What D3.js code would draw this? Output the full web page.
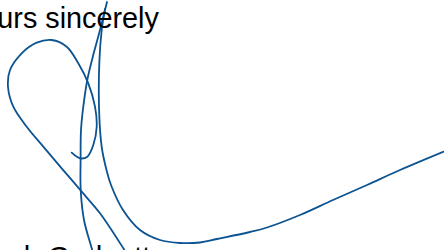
<!DOCTYPE html>
<html>
<head>
<meta charset="utf-8">
<script src="https://cdn.jsdelivr.net/npm/d3@7"></script>
<style>
  html, body { margin: 0; padding: 0; background: #fff; overflow: hidden; }
  text { font-family: "Liberation Sans", Arial, sans-serif; }
</style>
</head>
<body>
<div id="chart"></div>
<script>
const width = 444;
const height = 250;

// text lines of the letter
const closingLine = "Yours sincerely";
const nameLine = "Hugh Gadgett";

// signature strokes, points in pen coordinates
const loopStroke = [
  [71.7, 152.7], [80, 158.3], [87.3, 156.7], [93.3, 145], [96.7, 126.7],
  [95, 106.7], [88.3, 83.3], [78.3, 63.3], [66.7, 46.7], [51.7, 40],
  [36.7, 42.7], [21.7, 53.3], [10, 70], [8, 86.7], [13.3, 106.7],
  [26.7, 126.7], [43.3, 146.7], [61.7, 168.3], [81.7, 191.7],
  [100, 213.3], [123.3, 248.3], [128, 256]
];

const upStroke = [
  [94, 257], [91.7, 248.3], [84, 220], [80.7, 190], [80.6, 160],
  [81, 130], [83.3, 106.7], [87.3, 80], [92.5, 58], [100, 30], [107, 2]
];

const downStroke = [
  [105, 9], [101.7, 30], [99.3, 63.3], [99.2, 113.3], [101.7, 147],
  [106.5, 170], [111, 185], [123, 210], [140, 230], [160, 240],
  [180, 243], [200, 242.5], [217, 239], [250, 232], [267, 227.5],
  [300, 215], [333, 200], [367, 185], [400, 170], [450, 149]
];

const svg = d3.select("#chart")
  .append("svg")
  .attr("width", width)
  .attr("height", height);

const x = d3.scaleLinear().domain([0, 444]).range([0, width]);
const y = d3.scaleLinear().domain([0, 250]).range([0, height]);

const line = d3.line()
  .x(d => x(d[0]))
  .y(d => y(d[1]))
  .curve(d3.curveCatmullRom.alpha(0.5));

svg.selectAll("path.stroke")
  .data([loopStroke, upStroke, downStroke])
  .enter()
  .append("path")
  .attr("class", "stroke")
  .attr("d", line)
  .attr("fill", "none")
  .attr("stroke", "#0b5391")
  .attr("stroke-width", 1.8)
  .attr("stroke-linecap", "round");

svg.append("text")
  .attr("x", -35.3)
  .attr("y", 28)
  .attr("font-size", 28.8)
  .attr("fill", "#000")
  .text(closingLine);

svg.append("text")
  .attr("x", -29)
  .attr("y", 267)
  .attr("font-size", 28.8)
  .attr("fill", "#000")
  .text(nameLine);
</script>
</body>
</html>
